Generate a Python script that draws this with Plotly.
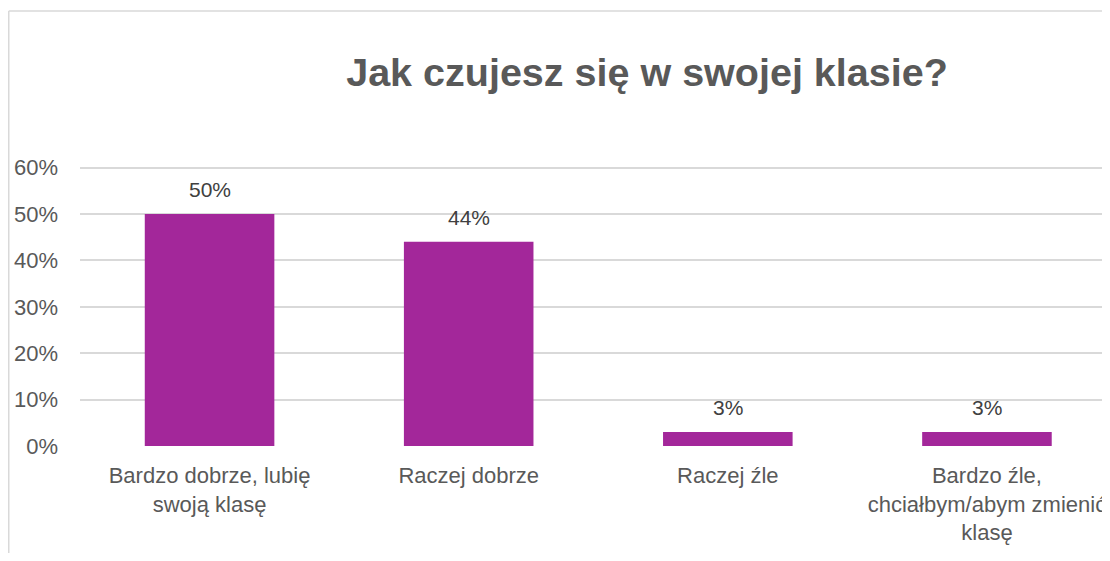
import plotly.graph_objects as go

categories = ["Bardzo dobrze, lubię<br>swoją klasę", "Raczej dobrze", "Raczej źle",
              "Bardzo źle,<br>chciałbym/abym zmienić<br>klasę"]
values = [0.50, 0.44, 0.03, 0.03]
labels = ["50%", "44%", "3%", "3%"]
yticks = [0, 0.1, 0.2, 0.3, 0.4, 0.5, 0.6]
ytick_text = ["0%", "10%", "20%", "30%", "40%", "50%", "60%"]

FONT = "Liberation Sans"
TXT = "#595959"

W, H = 1094, 545
L, R_EDGE = 72, 1094
T, B = 155, 107
PW = R_EDGE - L
PH = H - T - B

fig = go.Figure()
fig.add_trace(go.Bar(
    x=list(range(len(categories))), y=values, width=0.5,
    marker=dict(color="#A3279A", line=dict(width=0)),
    hoverinfo="skip",
))

for i, (v, t) in enumerate(zip(values, labels)):
    fig.add_annotation(x=i, y=v, text=t, showarrow=False, yanchor="bottom", yshift=11,
                       font=dict(family=FONT, size=21, color="#404040"))

border_x = (0.75 - L) / PW
border_y = (H - B - 3) / PH

fig.update_layout(
    width=W, height=H,
    margin=dict(l=L, r=W - R_EDGE, t=T, b=B, pad=0),
    paper_bgcolor="white", plot_bgcolor="white",
    showlegend=False,
    title=dict(text="<b>Jak czujesz się w swojej klasie?</b>", x=639 / W, xanchor="center",
               y=1 - 64 / H, yanchor="middle",
               font=dict(family=FONT, size=39.5, color=TXT)),
    xaxis=dict(tickmode="array", tickvals=list(range(len(categories))), ticktext=categories,
               range=[-0.5, 3.444], showgrid=False, zeroline=False, showline=False,
               ticks="", ticklabelstandoff=14, ticklabeloverflow="allow", automargin=False,
               tickfont=dict(family=FONT, size=22, color=TXT)),
    yaxis=dict(range=[0, 0.61], tickmode="array", tickvals=yticks, ticktext=ytick_text,
               showgrid=True, gridcolor="#D9D9D9", gridwidth=1.5, zeroline=False,
               showline=False, ticks="", ticklabelstandoff=21, automargin=False,
               tickfont=dict(family=FONT, size=22, color=TXT)),
    shapes=[
        dict(type="line", xref="paper", yref="paper", x0=border_x, x1=border_x,
             y0=-B / PH, y1=border_y, line=dict(color="#D9D9D9", width=1.5)),
        dict(type="line", xref="paper", yref="paper", x0=border_x, x1=1.0,
             y0=border_y, y1=border_y, line=dict(color="#D9D9D9", width=1.5)),
    ],
)

fig.write_html("out.html")
